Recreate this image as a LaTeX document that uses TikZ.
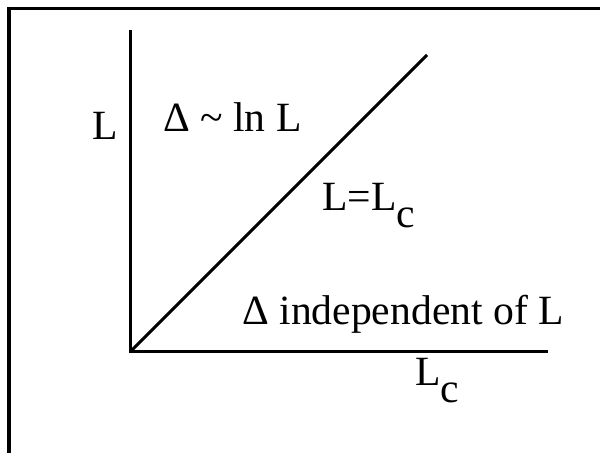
\documentclass[tikz,border=0pt]{standalone}
\usepackage{fontspec}
\setmainfont{Liberation Serif}
\usepackage{tikz}
\usetikzlibrary{positioning}
\newcommand{\lsub}[1]{\raisebox{-0.40em}{#1}}
\tikzset{
  frameline/.style = {line width=0.075cm,color=black},
  axisline/.style  = {line width=0.075cm,color=black,line cap=rect},
  lbl/.style       = {font=\fontsize{29.6}{34}\selectfont,inner sep=0pt,anchor=base west},
}
\begin{document}
\begin{tikzpicture}[x=0.025cm,y=0.025cm]
  \useasboundingbox (0,0) rectangle (600,453);
  % open frame (left and top edges only)
  \coordinate (fbot) at (9,0);
  \coordinate (fcorner) at (9,444);
  \coordinate (fright) at (600,444);
  \draw[frameline] (fbot) -- (fcorner) -- (fright);
  % axes and the line L = Lc
  \coordinate (origin) at (130,101);
  \coordinate (ytop) at (130,421);
  \coordinate (xend) at (546,101);
  \coordinate (dtop) at (427,398);
  \draw[axisline] (ytop) -- (origin) -- (xend);
  \draw[axisline,line cap=butt] (origin) -- (dtop);
  % labels
  \node[lbl] (ylabel) at (92,313) {L};
  \node[lbl] (upper) at (163,321) {Δ \textasciitilde{} ln L};
  \node[lbl] (crit) at (322,242) {L=L\lsub{c}};
  \node[lbl] (lower) at (242,128) {Δ independent of L};
  \node[lbl] (xlabel) at (415,67) {L\lsub{c}};
\end{tikzpicture}
\end{document}
